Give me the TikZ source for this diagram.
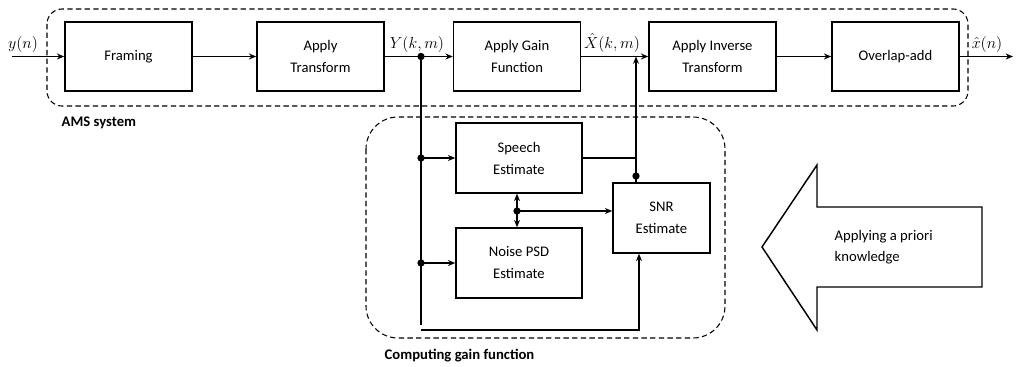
\documentclass[tikz,border=0pt]{standalone}
\usepackage{fontspec}
\setmainfont{Carlito}
\newfontfamily\tms{Liberation Serif}
\usetikzlibrary{arrows.meta}
\begin{document}
\begin{tikzpicture}[x=0.75pt,y=-0.75pt,
  blk/.style={draw,line width=1.1pt,minimum width=127*0.75pt,minimum height=69*0.75pt,inner sep=0pt,align=center,font=\fontsize{11}{16.5}\selectfont},
  con/.style={line width=1.1pt},
  arr/.style={con,-{Stealth[length=5.5pt,width=4.5pt]}},
  dbl/.style={con,{Stealth[length=5.5pt,width=4.5pt]}-{Stealth[length=5.5pt,width=4.5pt]}},
  grp/.style={draw,line width=0.8pt,dash pattern=on 4pt off 2.5pt},
  dot/.style={circle,fill,inner sep=0pt,minimum size=5.5pt},
  lbl/.style={font=\fontsize{11}{13}\selectfont\bfseries,anchor=west},
  sig/.style={font=\fontsize{12.5}{14}\selectfont,inner sep=1pt}
]
\useasboundingbox (0,0) rectangle (1017,367);
% groups
\draw[grp,rounded corners=15*0.75pt] (47,9) rectangle (968,106);
\draw[grp,rounded corners=32*0.75pt] (366,117) rectangle (725,338);
\node[lbl] (ams) at (57,123) {AMS system};
\node[lbl] (cgf) at (380,356) {Computing gain function};
% main chain
\node[blk] (fr) at (128.5,56.5) {Framing};
\node[blk] (at) at (320.5,56.5) {Apply\\Transform};
\node[blk] (ag) at (517,56.5) {Apply Gain\\Function};
\node[blk] (ai) at (712.5,56.5) {Apply Inverse\\Transform};
\node[blk] (ov) at (895.5,56.5) {Overlap-add};
\coordinate (in) at (12,56.5);
\coordinate (out) at (1013,56.5);
\node[sig,anchor=south] (yl) at (23,54) {$y\!\left(n\right)$};
\node[sig,anchor=south] (xl) at (987,54) {$\hat{x}\!\left(n\right)$};
\draw[arr] (in) -- (fr);
\draw[arr] (fr) -- (at);
\draw[arr] (at) -- (ag);
\draw[arr] (ag) -- (ai);
\draw[arr] (ai) -- (ov);
\draw[arr] (ov) -- (out);
\node[sig,anchor=south] (Yl) at (417,54) {$Y\!\left(k,m\right)$};
\node[sig,anchor=south] (Xl) at (612,54) {$\hat{X}\!\left(k,m\right)$};
% lower blocks
\node[blk,minimum width=126*0.75pt,minimum height=70*0.75pt] (sp) at (519,158) {Speech\\Estimate};
\node[blk,minimum width=126*0.75pt,minimum height=70*0.75pt] (np) at (519,263) {Noise PSD\\Estimate};
\node[blk,minimum width=97*0.75pt,minimum height=70*0.75pt] (snr) at (661.5,218) {SNR\\Estimate};
% connections
\node[dot] (d0) at (421,56.5) {};
\node[dot] (d1) at (421,158) {};
\node[dot] (d2) at (421,263) {};
\coordinate (vb) at (421,325);
\coordinate (hb) at (421,330);
\draw[con] (d0.center) -- (vb);
\draw[arr] (d1.center) -- (sp.west);
\draw[arr] (d2.center) -- (np.west);
\draw[arr] (hb) -| (snr.south -| 639,0);
\coordinate (up) at (636,56.5);
\node[dot] (d4) at (636,176) {};
\draw[arr] (snr.north -| up) -- (up);
\draw[con] (sp.east) -- (sp.east -| up);
\draw[dbl] (sp.south -| 517,0) -- (np.north -| 517,0);
\node[dot] (d3) at (517,211) {};
\draw[arr] (d3.center) -- (d3 -| snr.west);
% big arrow
\draw[line width=1.1pt] (762,247) -- (817,165) -- (817,207) -- (982,207) -- (982,287) -- (817,287) -- (817,330) -- cycle;
\node[anchor=west,align=left,font=\fontsize{11}{16}\selectfont] (ak) at (830,247) {Applying a priori\\knowledge};
\end{tikzpicture}
\end{document}
